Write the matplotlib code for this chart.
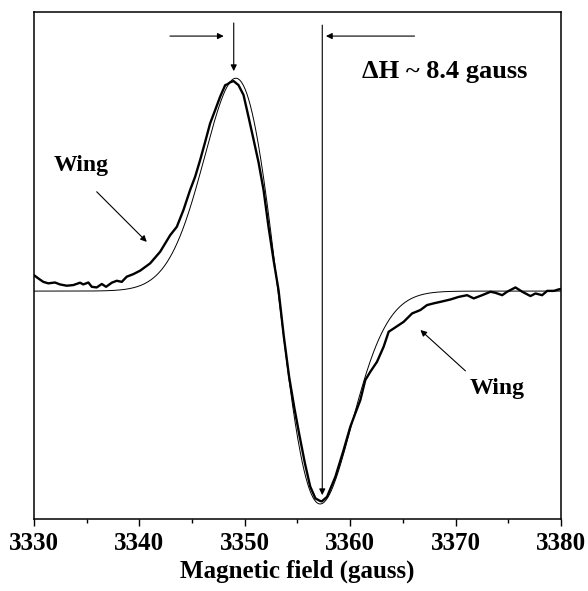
import numpy as np
import matplotlib.pyplot as plt
from matplotlib.ticker import MultipleLocator

plt.rcParams["font.family"] = ["Liberation Serif", "DejaVu Serif"]
plt.rcParams["font.weight"] = "bold"

# measured first-derivative EPR signal (arb. units, baseline = 0)
field = [
    3330.00, 3330.41, 3330.88, 3331.36, 3331.99, 3332.47, 3333.11, 3333.73,
    3334.37, 3334.68, 3335.16, 3335.48, 3335.95, 3336.43, 3336.84, 3337.38,
    3337.85, 3338.33, 3338.80, 3339.43, 3340.07, 3341.02, 3341.97, 3342.92,
    3343.55, 3344.18, 3344.81, 3345.29, 3345.76, 3346.24, 3346.71, 3347.19,
    3347.66, 3348.14, 3348.36, 3348.61, 3348.93, 3349.40, 3349.88, 3350.35,
    3350.83, 3351.30, 3351.78, 3352.25, 3352.73, 3353.20, 3353.70, 3354.20,
    3354.70, 3355.20, 3355.70, 3356.20, 3356.70, 3357.10, 3357.30, 3357.80,
    3358.59, 3359.37, 3360.01, 3360.48, 3360.96, 3361.43, 3361.91, 3362.54,
    3363.17, 3363.65, 3364.12, 3365.07, 3365.87, 3366.66, 3367.29, 3367.92,
    3368.56, 3369.51, 3370.29, 3371.09, 3371.72, 3372.52, 3373.31, 3373.78,
    3374.42, 3374.89, 3375.68, 3376.32, 3377.10, 3377.58, 3378.21, 3378.69,
    3379.32, 3379.79, 3380.00,
]
signal = [
    0.074, 0.059, 0.043, 0.036, 0.040, 0.031, 0.025, 0.028,
    0.039, 0.031, 0.040, 0.020, 0.017, 0.033, 0.020, 0.039,
    0.048, 0.043, 0.067, 0.079, 0.095, 0.129, 0.183, 0.260,
    0.299, 0.377, 0.470, 0.532, 0.609, 0.694, 0.780, 0.842,
    0.904, 0.958, 0.962, 0.971, 0.977, 0.958, 0.912, 0.811,
    0.705, 0.600, 0.470, 0.299, 0.144, 0.005, -0.210, -0.397,
    -0.543, -0.675, -0.800, -0.908, -0.964, -0.975, -0.978, -0.957,
    -0.864, -0.740, -0.631, -0.569, -0.507, -0.414, -0.375, -0.329,
    -0.259, -0.189, -0.174, -0.143, -0.104, -0.088, -0.065, -0.057,
    -0.050, -0.039, -0.027, -0.019, -0.034, -0.019, -0.003, -0.008,
    -0.019, -0.003, 0.017, -0.003, -0.023, -0.011, -0.019, 0.001,
    0.001, 0.008, 0.010,
]

# Gaussian-derivative fit to the central part of the line
fit_center = 3353.15
fit_sigma = 4.0
fit_amp = 0.99

# quoted peak-to-peak linewidth, gauss
delta_h = 8.4

h = np.linspace(3330, 3380, 600)
u = (h - fit_center) / fit_sigma
fit = -fit_amp * u * np.exp(0.5 - 0.5 * u ** 2)
peak_lo = fit_center - delta_h / 2
peak_hi = fit_center + delta_h / 2

fig = plt.figure(figsize=(5.88, 5.91), dpi=100)
ax = fig.add_axes([0.0578, 0.1218, 0.8963, 0.8579])

ax.plot(h, fit, color="black", lw=0.7)
ax.plot(field, signal, color="black", lw=1.7)

ax.set_xlim(3330, 3380)
ax.set_ylim(-1.06, 1.298)
ax.set_yticks([])
ax.xaxis.set_major_locator(MultipleLocator(10))
ax.xaxis.set_minor_locator(MultipleLocator(5))
ax.tick_params(axis="x", which="major", direction="out", length=5, width=1,
               labelsize=18, pad=4)
ax.tick_params(axis="x", which="minor", direction="out", length=3, width=1)
for sp in ax.spines.values():
    sp.set_linewidth(1.1)
ax.set_xlabel("Magnetic field (gauss)", fontsize=18, fontweight="bold", labelpad=4)

arrow = dict(arrowstyle="-|>", color="black", lw=0.8, mutation_scale=9,
             shrinkA=0, shrinkB=0)

# peak-to-peak markers
ax.annotate("", xy=(peak_lo, 1.023), xytext=(peak_lo, 1.247), arrowprops=arrow)
ax.annotate("", xy=(peak_hi, -0.949), xytext=(peak_hi, 1.237), arrowprops=arrow)
ax.annotate("", xy=(3348.0, 1.186), xytext=(3342.9, 1.186), arrowprops=arrow)
ax.annotate("", xy=(3357.7, 1.186), xytext=(3366.1, 1.186), arrowprops=arrow)
ax.text(3369.0, 1.019, "\u0394H ~ %.1f gauss" % delta_h, fontsize=19,
        fontweight="bold", ha="center", va="center")

# wings of the measured line
ax.annotate("", xy=(3340.7, 0.229), xytext=(3335.95, 0.462), arrowprops=arrow)
ax.text(3334.5, 0.586, "Wing", fontsize=17, fontweight="bold",
        ha="center", va="center")
ax.annotate("", xy=(3366.66, -0.181), xytext=(3370.93, -0.371), arrowprops=arrow)
ax.text(3373.9, -0.451, "Wing", fontsize=17, fontweight="bold",
        ha="center", va="center")

fig.savefig("out.png", dpi=100)
